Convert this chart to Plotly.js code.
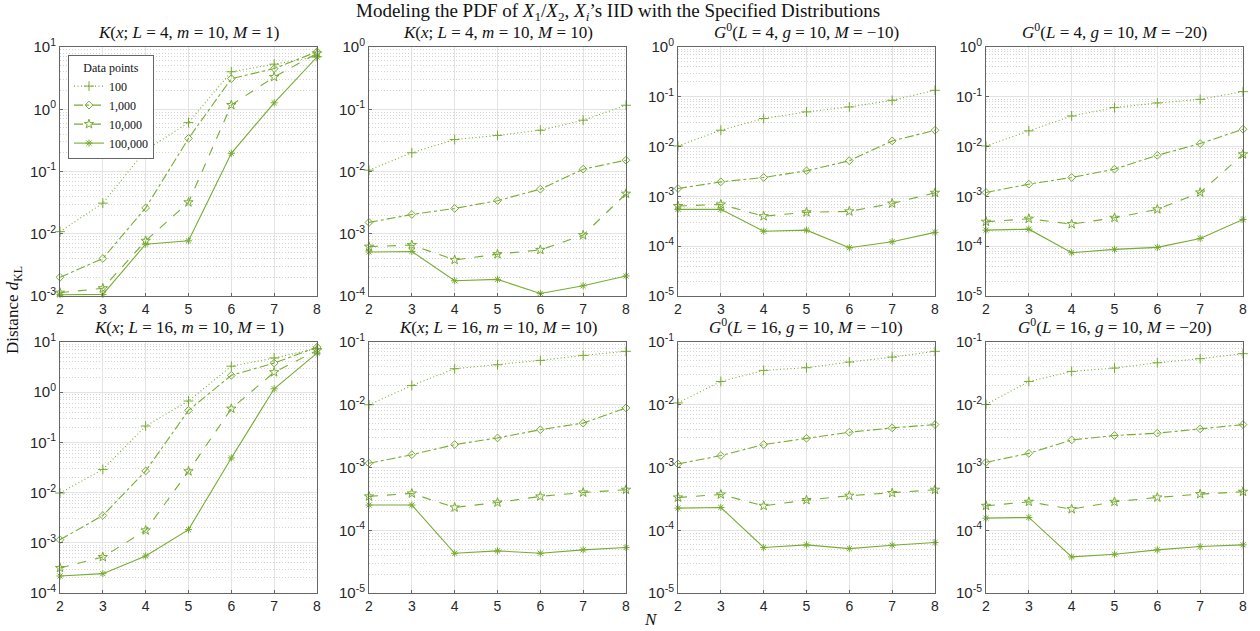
<!DOCTYPE html>
<html>
<head>
<meta charset="utf-8">
<script src="https://cdn.plot.ly/plotly-3.0.1.min.js"></script>
<style>html,body{margin:0;padding:0;background:#fff;}#chart{width:1260px;height:631px;}</style>
</head>
<body>
<div id="chart"></div>
<script>
// ---- data ----
const N = [2, 3, 4, 5, 6, 7, 8];
const seriesNames = ['100', '1,000', '10,000', '100,000'];

// each panel: [100, 1,000, 10,000, 100,000]
const kL4M1 = [
  [0.0108, 0.031, 0.22, 0.61, 4.0, 5.3, 7.0],
  [0.0020, 0.0040, 0.026, 0.34, 3.1, 4.5, 8.4],
  [0.00113, 0.00133, 0.0077, 0.032, 1.17, 3.3, 7.9],
  [0.00105, 0.00106, 0.0068, 0.0077, 0.196, 1.27, 6.9]
];
const kL4M10 = [
  [0.0105, 0.020, 0.0326, 0.038, 0.046, 0.0667, 0.116],
  [0.00152, 0.00204, 0.00255, 0.0034, 0.0052, 0.0109, 0.0152],
  [0.00062, 0.00066, 0.00038, 0.00047, 0.00055, 0.00095, 0.0044],
  [0.00051, 0.00052, 0.000176, 0.000185, 0.00011, 0.000146, 0.00021]
];
const gL4M10 = [
  [0.0103, 0.0213, 0.0366, 0.0497, 0.0626, 0.085, 0.135],
  [0.00144, 0.00196, 0.0024, 0.00326, 0.0052, 0.013, 0.0213],
  [0.00064, 0.00069, 0.00040, 0.00048, 0.00050, 0.00072, 0.00118],
  [0.00055, 0.00055, 0.00020, 0.00021, 0.000093, 0.000123, 0.00019]
];
const gL4M20 = [
  [0.0103, 0.0207, 0.0413, 0.0607, 0.0753, 0.089, 0.127],
  [0.0012, 0.00176, 0.0024, 0.00352, 0.0067, 0.0115, 0.0223],
  [0.00031, 0.000356, 0.000278, 0.000372, 0.00055, 0.0012, 0.0070],
  [0.00021, 0.00022, 0.000074, 0.0000863, 0.0000946, 0.000143, 0.000344]
];
const kL16M1 = [
  [0.0098, 0.029, 0.212, 0.668, 3.3, 4.8, 7.4],
  [0.00115, 0.0035, 0.027, 0.435, 2.17, 3.8, 7.9],
  [0.000315, 0.00052, 0.00177, 0.0266, 0.47, 2.5, 6.8],
  [0.000218, 0.000243, 0.000546, 0.00183, 0.049, 1.17, 6.0]
];
const kL16M10 = [
  [0.0100, 0.0203, 0.0375, 0.0434, 0.0509, 0.0612, 0.071],
  [0.00117, 0.0016, 0.00232, 0.00296, 0.0040, 0.0051, 0.0089],
  [0.000346, 0.000386, 0.000231, 0.000277, 0.000346, 0.00040, 0.000442],
  [0.000252, 0.000252, 0.000043, 0.0000469, 0.000043, 0.0000487, 0.000053]
];
const gL16M10 = [
  [0.0107, 0.0235, 0.0353, 0.0389, 0.0479, 0.0575, 0.071],
  [0.00114, 0.00155, 0.00232, 0.00292, 0.00365, 0.00428, 0.00483],
  [0.000333, 0.000372, 0.000245, 0.000303, 0.000355, 0.000392, 0.000442],
  [0.000225, 0.000231, 0.000053, 0.0000585, 0.000051, 0.0000578, 0.0000637]
];
const gL16M20 = [
  [0.0101, 0.0235, 0.034, 0.0384, 0.0467, 0.0542, 0.0652],
  [0.00121, 0.00168, 0.00275, 0.00323, 0.00352, 0.00412, 0.00483],
  [0.000245, 0.000284, 0.000217, 0.000284, 0.000333, 0.000377, 0.000411],
  [0.000156, 0.00016, 0.0000376, 0.0000415, 0.0000487, 0.000055, 0.0000585]
];

const panels = [kL4M1, kL4M10, gL4M10, gL4M20, kL16M1, kL16M10, gL16M10, gL16M20];
const panelTitles = [
  '<i>K</i>(<i>x</i>; <i>L</i> = 4, <i>m</i> = 10, <i>M</i> = 1)',
  '<i>K</i>(<i>x</i>; <i>L</i> = 4, <i>m</i> = 10, <i>M</i> = 10)',
  '<i>G</i><sup>0</sup>(<i>L</i> = 4, <i>g</i> = 10, <i>M</i> = −10)',
  '<i>G</i><sup>0</sup>(<i>L</i> = 4, <i>g</i> = 10, <i>M</i> = −20)',
  '<i>K</i>(<i>x</i>; <i>L</i> = 16, <i>m</i> = 10, <i>M</i> = 1)',
  '<i>K</i>(<i>x</i>; <i>L</i> = 16, <i>m</i> = 10, <i>M</i> = 10)',
  '<i>G</i><sup>0</sup>(<i>L</i> = 16, <i>g</i> = 10, <i>M</i> = −10)',
  '<i>G</i><sup>0</sup>(<i>L</i> = 16, <i>g</i> = 10, <i>M</i> = −20)'
];
const yExpRanges = [[-3, 1], [-4, 0], [-5, 0], [-5, 0], [-4, 1], [-5, -1], [-5, -1], [-5, -1]];

// ---- styling ----
const W = 1260, H = 631;
const colPx = [[60, 317], [369, 626], [678, 935], [986, 1243]];
const rowPx = [[47, 296], [342, 593]];
const green = '#77AC30';
const dashes = ['1px,2.5px', 'dashdot', 'dash', 'solid'];
const symbols = ['cross-thin-open', 'diamond-open', 'star-open', 'asterisk-open'];
const msizes = [7, 6, 7, 6];
const serif = 'Liberation Serif, DejaVu Serif, serif';
const sans = 'Liberation Sans, Arial, sans-serif';

const traces = [];
const layout = {
  width: W, height: H,
  margin: {l: 0, r: 0, t: 0, b: 0},
  paper_bgcolor: '#fff', plot_bgcolor: '#fff',
  showlegend: true,
  legend: {
    x: 68 / W, y: 1 - 55 / H, xanchor: 'left', yanchor: 'top',
    bgcolor: '#fff', bordercolor: '#666', borderwidth: 1,
    font: {family: serif, size: 12, color: '#111'},
    title: {text: 'Data points', side: 'top center', font: {family: serif, size: 12, color: '#111'}},
    tracegroupgap: 0, itemwidth: 30
  },
  annotations: [],
  shapes: []
};

panels.forEach((pd, i) => {
  const r = Math.floor(i / 4), c = i % 4;
  const idx = i === 0 ? '' : String(i + 1);
  const xa = 'x' + idx, ya = 'y' + idx;
  pd.forEach((vals, s) => {
    traces.push({
      x: N, y: vals, xaxis: xa, yaxis: ya,
      type: 'scatter', mode: 'lines+markers',
      name: seriesNames[s], showlegend: i === 0,
      line: {color: green, width: 1.1, dash: dashes[s]},
      marker: {symbol: symbols[s], size: msizes[s], color: green, line: {color: green, width: 1}},
      cliponaxis: false
    });
  });
  const tv = [], tt = [], mv = [];
  for (let e = yExpRanges[i][0]; e <= yExpRanges[i][1]; e++) {
    tv.push(Math.pow(10, e));
    tt.push('10<sup>' + (e < 0 ? '-' + (-e) : e) + '</sup>');
    if (e < yExpRanges[i][1]) {
      for (let k = 2; k <= 9; k++) mv.push(k * Math.pow(10, e));
    }
  }
  const axCommon = {
    showline: true, mirror: true, linecolor: '#666', linewidth: 1,
    ticks: 'inside', ticklen: 3, tickcolor: '#666',
    tickfont: {family: sans, size: 14, color: '#262626'},
    showgrid: true, gridcolor: '#e3e3e3', gridwidth: 1,
    zeroline: false
  };
  layout['xaxis' + idx] = Object.assign({}, axCommon, {
    domain: [colPx[c][0] / W, colPx[c][1] / W],
    anchor: ya, range: [2, 8], tickmode: 'linear', dtick: 1, tick0: 2
  });
  layout['yaxis' + idx] = Object.assign({}, axCommon, {
    domain: [1 - rowPx[r][1] / H, 1 - rowPx[r][0] / H],
    anchor: xa, type: 'log', range: yExpRanges[i],
    tickmode: 'array', tickvals: tv, ticktext: tt,
    tickfont: {family: sans, size: 15, color: '#262626'},
    minor: {tickmode: 'array', tickvals: mv, showgrid: true, gridcolor: '#d4d4d4', griddash: '1px,2px', gridwidth: 1, ticks: ''}
  });
  layout.annotations.push({
    text: panelTitles[i], xref: 'paper', yref: 'paper',
    x: (colPx[c][0] + colPx[c][1]) / 2 / W, y: 1 - (rowPx[r][0] - 3) / H,
    xanchor: 'center', yanchor: 'bottom', showarrow: false,
    font: {family: serif, size: 17, color: '#111'}
  });
});

layout.annotations.push({
  text: 'Modeling the PDF of <i>X</i><sub>1</sub>/<i>X</i><sub>2</sub>, <i>X<sub>i</sub></i>’s IID with the Specified Distributions',
  xref: 'paper', yref: 'paper', x: 618 / W, y: 1 - 12 / H,
  xanchor: 'center', yanchor: 'middle', showarrow: false,
  font: {family: serif, size: 19, color: '#111'}
});
layout.annotations.push({
  text: 'Distance <i>d</i><sub>KL</sub>',
  xref: 'paper', yref: 'paper', x: 14 / W, y: 1 - 310 / H,
  xanchor: 'center', yanchor: 'middle', textangle: -90, showarrow: false,
  font: {family: serif, size: 17, color: '#111'}
});
layout.annotations.push({
  text: '<i>N</i>',
  xref: 'paper', yref: 'paper', x: 651 / W, y: 1 - 619 / H,
  xanchor: 'center', yanchor: 'middle', showarrow: false,
  font: {family: serif, size: 17, color: '#111'}
});

Plotly.newPlot('chart', traces, layout, {displayModeBar: false, staticPlot: true});
</script>
</body>
</html>
